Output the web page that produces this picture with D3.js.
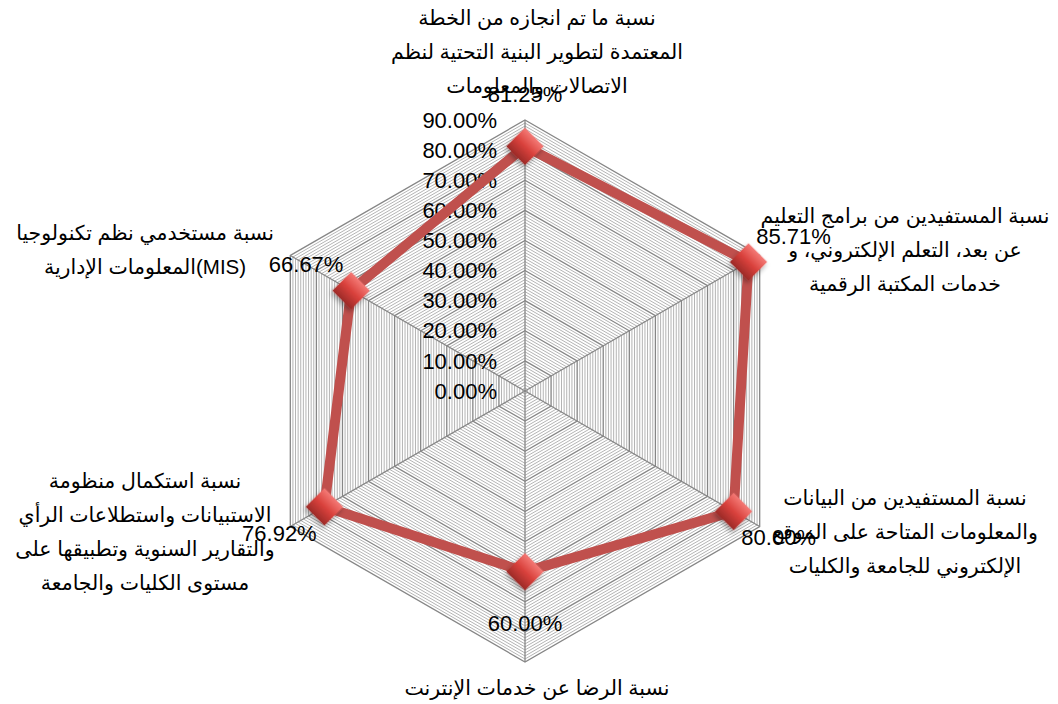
<!DOCTYPE html>
<html>
<head>
<meta charset="utf-8">
<script src="https://cdn.jsdelivr.net/npm/d3@7"></script>
<style>
  body { margin: 0; background: #fff; }
  svg text { font-family: "Liberation Sans", Arial, "DejaVu Sans", sans-serif; }
</style>
</head>
<body>
<div id="chart"></div>
<script>
// categories, clockwise from the top
const categories = [
  ["نسبة ما تم انجازه من الخطة", "المعتمدة لتطوير البنية التحتية لنظم", "الاتصالات والمعلومات"],
  ["نسبة المستفيدين من برامج التعليم", "عن بعد، التعلم الإلكتروني، و", "خدمات المكتبة الرقمية"],
  ["نسبة المستفيدين من البيانات", "والمعلومات المتاحة على الموقع", "الإلكتروني للجامعة والكليات"],
  ["نسبة الرضا عن خدمات الإنترنت"],
  ["نسبة استكمال منظومة", "الاستبيانات واستطلاعات الرأي", "والتقارير السنوية وتطبيقها على", "مستوى الكليات والجامعة"],
  ["نسبة مستخدمي نظم تكنولوجيا", "المعلومات الإدارية(MIS)"]
];
const values = [0.8125, 0.8571, 0.80, 0.60, 0.7692, 0.6667];
const ticks = [0, 0.1, 0.2, 0.3, 0.4, 0.5, 0.6, 0.7, 0.8, 0.9];

const width = 1058, height = 704;
const cx = 525, cy = 391;

const svg = d3.select("#chart").append("svg")
  .attr("width", width).attr("height", height);

const r = d3.scaleLinear().domain([0, 0.9]).range([0, 271]);
const angle = i => -Math.PI / 2 + i * 2 * Math.PI / categories.length;
const pt = (i, v) => [cx + r(v) * Math.cos(angle(i)), cy + r(v) * Math.sin(angle(i))];
const fmt = d3.format(".2%");

const defs = svg.append("defs");
const grad = defs.append("linearGradient").attr("id", "mk")
  .attr("x1", 0).attr("y1", 0).attr("x2", 0).attr("y2", 1);
grad.append("stop").attr("offset", "0%").attr("stop-color", "#f47a76");
grad.append("stop").attr("offset", "50%").attr("stop-color", "#d9413c");
grad.append("stop").attr("offset", "100%").attr("stop-color", "#9c2a27");
const sh = defs.append("filter").attr("id", "sh").attr("x", "-50%").attr("y", "-50%").attr("width", "200%").attr("height", "200%");
sh.append("feDropShadow").attr("dx", 1).attr("dy", 3).attr("stdDeviation", 2.5).attr("flood-opacity", 0.35);

// grid: minor every 1%, major every 10%
const grid = svg.append("g");
const minor = d3.range(1, 90).map(d => d / 100).filter(d => d % 0.1 > 0.001 && d % 0.1 < 0.099);
const hex = v => d3.range(categories.length).map(i => pt(i, v));
const line = d3.line().curve(d3.curveLinearClosed);

grid.selectAll("path.minor").data(minor).enter().append("path")
  .attr("class", "minor")
  .attr("d", d => line(hex(d)))
  .attr("fill", "none").attr("stroke", "#b4b4b4").attr("stroke-width", 1);

grid.selectAll("path.major").data(ticks.slice(1)).enter().append("path")
  .attr("class", "major")
  .attr("d", d => line(hex(d)))
  .attr("fill", "none").attr("stroke", "#868686").attr("stroke-width", 1.3);

grid.selectAll("line.spoke").data(categories).enter().append("line")
  .attr("x1", cx).attr("y1", cy)
  .attr("x2", (d, i) => pt(i, 0.9)[0]).attr("y2", (d, i) => pt(i, 0.9)[1])
  .attr("stroke", "#868686").attr("stroke-width", 1.3);

// tick labels along the top axis
svg.selectAll("text.tick").data(ticks).enter().append("text")
  .attr("x", cx - 28).attr("y", d => cy - r(d))
  .attr("dy", "0.35em")
  .attr("text-anchor", "end")
  .attr("font-size", 22).attr("fill", "#000")
  .text(d => fmt(d));

// series
svg.append("path")
  .attr("d", line(values.map((v, i) => pt(i, v))))
  .attr("fill", "none").attr("stroke", "#c0504d").attr("stroke-width", 10)
  .attr("stroke-linejoin", "miter");

svg.selectAll("path.mk").data(values).enter().append("path")
  .attr("class", "mk")
  .attr("transform", (d, i) => `translate(${pt(i, d)}) rotate(45)`)
  .attr("d", d3.symbol().type(d3.symbolSquare).size(700))
  .attr("fill", "url(#mk)").attr("filter", "url(#sh)");

// data labels, pushed out along each axis
svg.selectAll("text.val").data(values).enter().append("text")
  .attr("x", (d, i) => pt(i, d)[0] + 52 * Math.cos(angle(i)))
  .attr("y", (d, i) => pt(i, d)[1] + 52 * Math.sin(angle(i)))
  .attr("dy", "0.35em")
  .attr("text-anchor", "middle")
  .attr("font-size", 22).attr("fill", "#000")
  .text(d => fmt(d));

// category labels (Excel lays the mixed MIS line out left-to-right)
const labelAt = i => {
  const a = angle(i);
  const dx = Math.abs(Math.cos(a)) < 0.01 ? 12 : 380 * Math.sign(Math.cos(a));
  const dy = Math.abs(Math.cos(a)) < 0.01 ? 318 * Math.sign(Math.sin(a)) : 141 * Math.sign(Math.sin(a));
  return [cx + dx, cy + dy];
};
const lh = 34;
categories.forEach((lines, i) => {
  const [x, y] = labelAt(i);
  let y0 = y - (lines.length - 1) * lh / 2;
  if (i === 0) y0 = 18;
  if (i === 3) y0 = 688;
  const t = svg.append("text")
    .attr("text-anchor", "middle")
    .attr("font-size", 20.5).attr("fill", "#000");
  lines.forEach((s, k) => {
    t.append("tspan").attr("x", x).attr("y", y0 + k * lh).attr("dy", "0.35em")
      .text("\u202A" + s + "\u202C");
  });
});
</script>
</body>
</html>
